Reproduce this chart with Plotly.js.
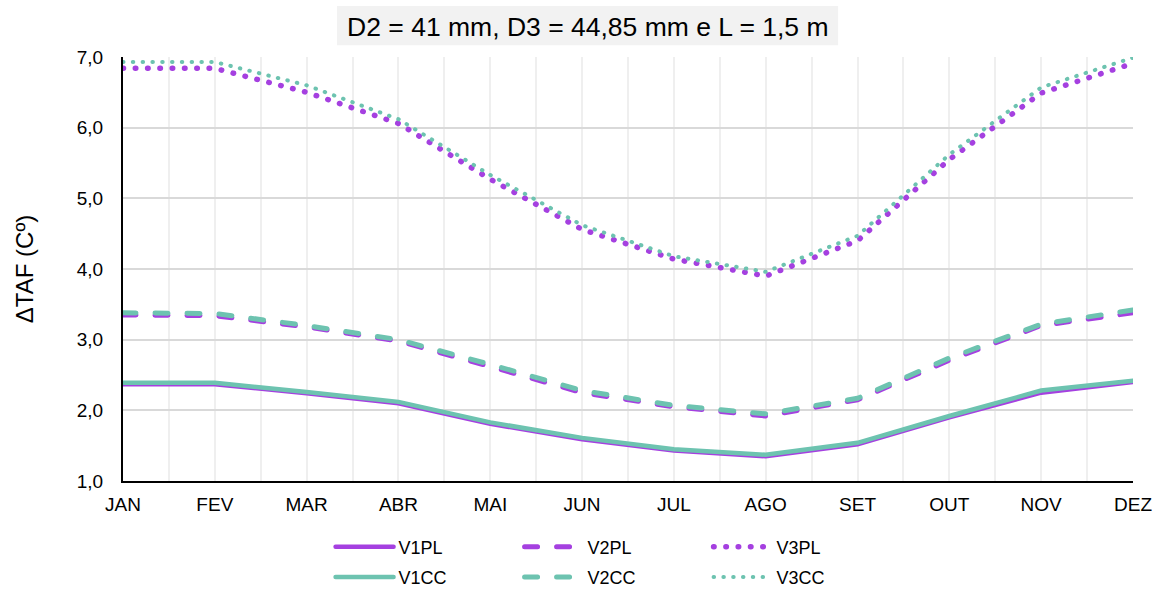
<!DOCTYPE html>
<html>
<head>
<meta charset="utf-8">
<script src="https://cdn.plot.ly/plotly-3.0.1.min.js"></script>
<style>
html,body{margin:0;padding:0;background:#fff;}
#chart{width:1164px;height:590px;}
.js-line{stroke-linecap:round;}
</style>
</head>
<body>
<div id="chart"></div>
<script>
// ---- data ----
const months = ["JAN","FEV","MAR","ABR","MAI","JUN","JUL","AGO","SET","OUT","NOV","DEZ"];
const V1PL = [2.37,2.37,2.24,2.10,1.81,1.59,1.43,1.35,1.52,1.90,2.25,2.40];
const V2PL = [3.35,3.34,3.18,2.98,2.62,2.25,2.05,1.92,2.15,2.71,3.20,3.38];
const V3PL = [6.84,6.84,6.50,6.06,5.27,4.56,4.14,3.90,4.40,5.55,6.49,6.91];
const V1CC = [2.39,2.39,2.26,2.12,1.83,1.61,1.45,1.37,1.54,1.92,2.28,2.42];
const V2CC = [3.38,3.37,3.20,3.00,2.65,2.28,2.07,1.95,2.17,2.74,3.22,3.42];
const V3CC = [6.93,6.93,6.60,6.12,5.33,4.62,4.18,3.96,4.47,5.62,6.57,6.99];
const yTicks = [1,2,3,4,5,6,7];
const titleText = "D2 = 41 mm, D3 = 44,85 mm e L = 1,5 m";
const yTitle = "ΔTAF (Cº)";

const PURPLE = "#A540E0";
const TEAL = "#6DC3B0";
const xIdx = months.map((m, i) => i);

function tr(name, y, color, width, dash, legend) {
  return {
    type: "scatter", mode: "lines", name: name,
    x: xIdx, y: y,
    line: {color: color, width: width, dash: dash},
    legend: legend,
    hoverinfo: "skip"
  };
}

const data = [
  tr("V1PL", V1PL, PURPLE, 4.5, "solid", "legend"),
  tr("V2PL", V2PL, PURPLE, 5, "13px,19px", "legend"),
  tr("V3PL", V3PL, PURPLE, 5.5, "0.5px,11.8px", "legend"),
  tr("V1CC", V1CC, TEAL, 4.5, "solid", "legend2"),
  tr("V2CC", V2CC, TEAL, 5, "13px,19px", "legend2"),
  tr("V3CC", V3CC, TEAL, 4, "0.5px,9.3px", "legend2")
];

const legendCommon = {
  orientation: "h", xanchor: "left", yanchor: "top",
  xref: "container", yref: "container",
  font: {family: "Liberation Sans, Arial, sans-serif", size: 18, color: "#000"},
  entrywidth: 116, entrywidthmode: "pixels", itemwidth: 58,
  bgcolor: "rgba(0,0,0,0)", traceorder: "normal"
};

const layout = {
  width: 1164, height: 590,
  margin: {l: 123, r: 31, t: 57, b: 109, autoexpand: false},
  paper_bgcolor: "#fff", plot_bgcolor: "#fff",
  separators: ",.",
  font: {family: "Liberation Sans, Arial, sans-serif", color: "#000"},
  showlegend: true,
  title: {
    text: titleText,
    font: {family: "Liberation Sans, Arial, sans-serif", size: 26.5, color: "#000"},
    xref: "container", x: 0.505, xanchor: "center",
    yref: "container", y: 0.955, yanchor: "middle"
  },
  shapes: [{
    type: "rect", xref: "paper", yref: "paper", layer: "below",
    x0: 0.2119, x1: 0.708, y0: 1.028, y1: 1.120,
    fillcolor: "#F2F2F2", line: {width: 0}
  }],
  xaxis: {
    type: "linear", range: [0, 11],
    tickvals: xIdx, ticktext: months,
    tickfont: {size: 19, color: "#000"},
    showgrid: true, gridcolor: "#EFEFEF", gridwidth: 2,
    minor: {dtick: 0.5, tick0: 0, showgrid: true, gridcolor: "#EFEFEF", gridwidth: 2},
    showline: true, linecolor: "#000", linewidth: 2,
    ticks: "outside", ticklen: 5, tickcolor: "rgba(0,0,0,0)",
    zeroline: false, fixedrange: true, automargin: false
  },
  yaxis: {
    range: [1, 7], tickvals: yTicks, tickformat: ".1f",
    tickfont: {size: 19, color: "#000"},
    showgrid: true, gridcolor: "#D9D9D9", gridwidth: 2,
    showline: true, linecolor: "#000", linewidth: 2,
    ticks: "outside", ticklen: 14, tickcolor: "rgba(0,0,0,0)",
    zeroline: false, fixedrange: true, automargin: false,
    title: {text: yTitle, font: {size: 24, color: "#000"}, standoff: 36}
  },
  legend: Object.assign({}, legendCommon, {x: 0.284, y: 0.104}),
  legend2: Object.assign({}, legendCommon, {x: 0.284, y: 0.053})
};

Plotly.newPlot("chart", data, layout, {staticPlot: true, displayModeBar: false});
</script>
</body>
</html>
